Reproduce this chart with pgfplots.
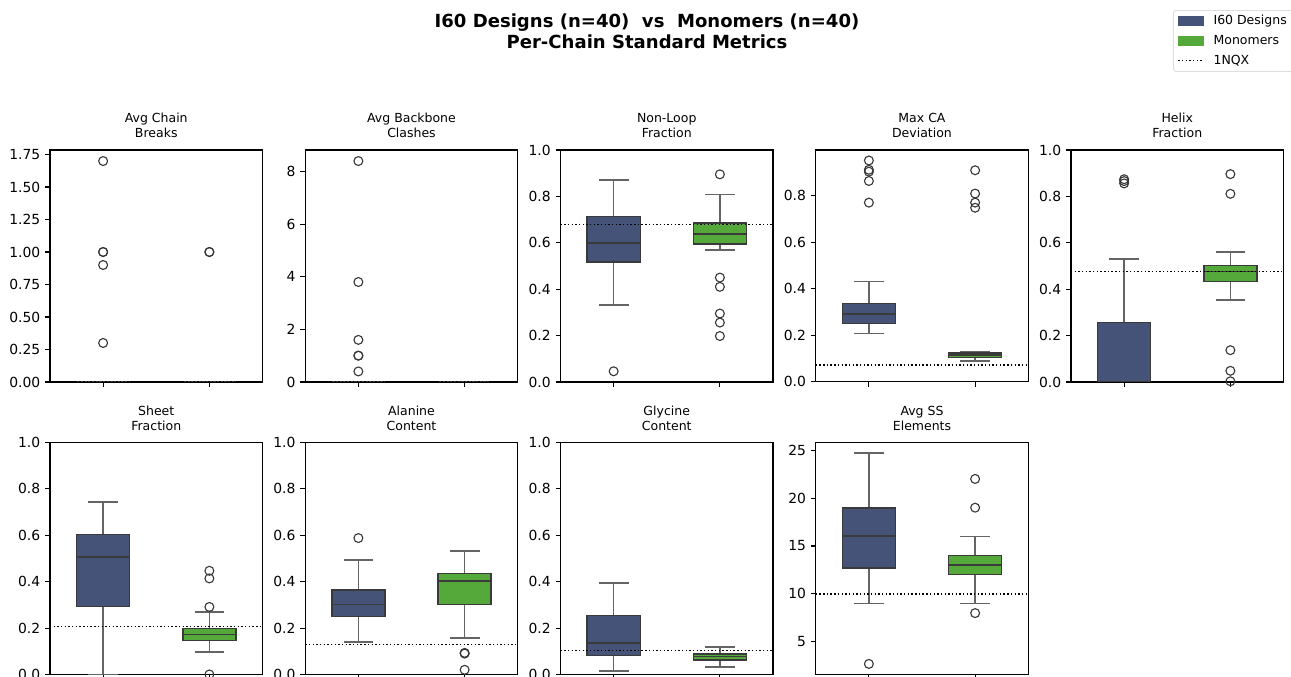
\documentclass[border=0pt]{standalone}
\usepackage{fontspec}
\setmainfont{DejaVu Sans}
\usepackage{pgfplots}
\pgfplotsset{compat=1.18}
\usepgfplotslibrary{statistics}

\definecolor{designs}{RGB}{70,83,120}
\definecolor{monomers}{RGB}{85,168,58}
\definecolor{boxedge}{RGB}{58,58,58}
\definecolor{whisk}{RGB}{100,100,100}
\definecolor{outl}{RGB}{55,55,55}

\pgfplotsset{
  panel/.style={
    scale only axis, width=153pt, height=167pt,
    anchor=north west,
    xmin=-0.5, xmax=1.5, xtick={0,1}, xticklabels={},
    tick align=outside, major tick length=3.5pt,
    xtick pos=left, ytick pos=left,
    axis line style={black, line width=0.8pt},
    every tick/.style={black, line width=0.8pt},
    tick label style={font=\fontsize{10}{12}\selectfont},
    /pgf/number format/assume math mode=true,
    title style={font=\fontsize{9}{10.8}\selectfont, align=center,
      at={(0.5,1)}, anchor=south, yshift=-0.5pt, inner sep=3pt},
  },
  frac/.style={ymin=0, ymax=1, ytick={0,0.2,...,1.0},
    yticklabel style={/pgf/number format/.cd, fixed, fixed zerofill, precision=1}},
  boxbase/.style={forget plot, draw=whisk, line width=1.15pt,
    mark=o, mark size=3.2pt, mark options={draw=outl, line width=0.8pt, solid},
    boxplot/draw direction=y,
    boxplot/box extend=0.5, boxplot/whisker extend=0.28,
    boxplot/every box/.style={draw=boxedge, line width=1pt},
    boxplot/every whisker/.style={draw=whisk, line width=1.15pt},
    boxplot/every median/.style={draw=boxedge, line width=1.1pt}},
  designsbox/.style={boxbase, boxplot/every box/.append style={fill=designs}},
  monobox/.style={boxbase, boxplot/every box/.append style={fill=monomers}},
  refline/.style={forget plot, black, line width=1pt, dash pattern=on 1pt off 1.65pt},
}

\begin{document}
\begin{tikzpicture}

% ---------- row 1 ----------
\begin{axis}[panel, at={({50*0.72pt},{-150*0.72pt})},
  title={Avg Chain\\Breaks}, ymin=0, ymax=1.785, ytick={0,0.25,0.5,0.75,1,1.25,1.5,1.75},
  yticklabel style={/pgf/number format/.cd, fixed, fixed zerofill, precision=2}]
\addplot[designsbox, boxplot prepared={draw position=0, lower whisker=0, lower quartile=0,
  median=0, upper quartile=0, upper whisker=0}]
  table[row sep=\\, y index=0]{v\\ 1.7\\ 1.0\\ 1.0\\ 0.9\\ 0.3\\};
\addplot[monobox, boxplot prepared={draw position=1, lower whisker=0, lower quartile=0,
  median=0, upper quartile=0, upper whisker=0}]
  table[row sep=\\, y index=0]{v\\ 1.0\\ 1.0\\};
\addplot[refline] coordinates {(-0.5,0) (1.5,0)};
\end{axis}

\begin{axis}[panel, at={({305.25*0.72pt},{-150*0.72pt})},
  title={Avg Backbone\\Clashes}, ymin=0, ymax=8.82, ytick={0,2,4,6,8}]
\addplot[designsbox, boxplot prepared={draw position=0, lower whisker=0, lower quartile=0,
  median=0, upper quartile=0, upper whisker=0}]
  table[row sep=\\, y index=0]{v\\ 8.4\\ 3.8\\ 1.6\\ 1.0\\ 1.0\\ 0.4\\};
\addplot[monobox, boxplot prepared={draw position=1, lower whisker=0, lower quartile=0,
  median=0, upper quartile=0, upper whisker=0}] coordinates {};
\addplot[refline] coordinates {(-0.5,0) (1.5,0)};
\end{axis}

\begin{axis}[panel, frac, at={({560.5*0.72pt},{-150*0.72pt})},
  title={Non-Loop\\Fraction}]
\addplot[designsbox, boxplot prepared={draw position=0, lower whisker=0.331, lower quartile=0.517,
  median=0.598, upper quartile=0.713, upper whisker=0.870}]
  table[row sep=\\, y index=0]{v\\ 0.046\\};
\addplot[monobox, boxplot prepared={draw position=1, lower whisker=0.570, lower quartile=0.594,
  median=0.638, upper quartile=0.685, upper whisker=0.809}]
  table[row sep=\\, y index=0]{v\\ 0.895\\ 0.450\\ 0.410\\ 0.295\\ 0.256\\ 0.198\\};
\addplot[refline] coordinates {(-0.5,0.678) (1.5,0.678)};
\end{axis}

\begin{axis}[panel, at={({815.75*0.72pt},{-150*0.72pt})},
  title={Max CA\\Deviation}, ymin=0, ymax=0.996, ytick={0,0.2,0.4,0.6,0.8},
  yticklabel style={/pgf/number format/.cd, fixed, fixed zerofill, precision=1}]
\addplot[designsbox, boxplot prepared={draw position=0, lower whisker=0.208, lower quartile=0.252,
  median=0.292, upper quartile=0.336, upper whisker=0.431}]
  table[row sep=\\, y index=0]{v\\ 0.770\\ 0.863\\ 0.903\\ 0.911\\ 0.951\\};
\addplot[monobox, boxplot prepared={draw position=1, lower whisker=0.090, lower quartile=0.106,
  median=0.116, upper quartile=0.125, upper whisker=0.130}]
  table[row sep=\\, y index=0]{v\\ 0.909\\ 0.809\\ 0.770\\ 0.748\\};
\addplot[refline] coordinates {(-0.5,0.073) (1.5,0.073)};
\end{axis}

\begin{axis}[panel, frac, at={({1071*0.72pt},{-150*0.72pt})},
  title={Helix\\Fraction},
  legend cell align=left,
  legend style={at={(axis description cs:0.48,1.6034)}, anchor=north west,
    draw=black!20, rounded corners=2pt, fill=white,
    font=\fontsize{9}{10.8}\selectfont, row sep=2.6pt,
    nodes={inner sep=1.5pt, text height=6.8pt, text depth=1.8pt},
    /tikz/every odd column/.append style={column sep=5.5pt}}]
\addplot[designsbox, boxplot prepared={draw position=0, lower whisker=0, lower quartile=0,
  median=0, upper quartile=0.256, upper whisker=0.530}]
  table[row sep=\\, y index=0]{v\\ 0.874\\ 0.866\\ 0.856\\};
\addplot[monobox, boxplot prepared={draw position=1, lower whisker=0.353, lower quartile=0.434,
  median=0.476, upper quartile=0.501, upper whisker=0.561}]
  table[row sep=\\, y index=0]{v\\ 0.896\\ 0.811\\ 0.137\\ 0.048\\ 0.003\\};
\addplot[refline] coordinates {(-0.5,0.475) (1.5,0.475)};
\addlegendimage{legend image code/.code={\fill[designs, sharp corners] (0pt,-3.3pt) rectangle (18pt,3.3pt);}}
\addlegendentry{I60 Designs}
\addlegendimage{legend image code/.code={\fill[monomers, sharp corners] (0pt,-3.3pt) rectangle (18pt,3.3pt);}}
\addlegendentry{Monomers}
\addlegendimage{legend image code/.code={\draw[black, sharp corners, line width=1pt, dash pattern=on 1pt off 1.65pt] (0pt,0pt) -- (18pt,0pt);}}
\addlegendentry{1NQX}
\end{axis}

% ---------- row 2 ----------
\begin{axis}[panel, frac, at={({50*0.72pt},{-442.5*0.72pt})},
  title={Sheet\\Fraction}]
\addplot[designsbox, boxplot prepared={draw position=0, lower whisker=0, lower quartile=0.292,
  median=0.506, upper quartile=0.604, upper whisker=0.744}] coordinates {};
\addplot[monobox, boxplot prepared={draw position=1, lower whisker=0.098, lower quartile=0.147,
  median=0.173, upper quartile=0.199, upper whisker=0.270}]
  table[row sep=\\, y index=0]{v\\ 0.291\\ 0.414\\ 0.447\\ 0.0\\};
\addplot[refline] coordinates {(-0.5,0.206) (1.5,0.206)};
\end{axis}

\begin{axis}[panel, frac, at={({305.25*0.72pt},{-442.5*0.72pt})},
  title={Alanine\\Content}]
\addplot[designsbox, boxplot prepared={draw position=0, lower whisker=0.141, lower quartile=0.251,
  median=0.301, upper quartile=0.364, upper whisker=0.493}]
  table[row sep=\\, y index=0]{v\\ 0.588\\};
\addplot[monobox, boxplot prepared={draw position=1, lower whisker=0.158, lower quartile=0.301,
  median=0.402, upper quartile=0.436, upper whisker=0.533}]
  table[row sep=\\, y index=0]{v\\ 0.093\\ 0.090\\ 0.020\\};
\addplot[refline] coordinates {(-0.5,0.129) (1.5,0.129)};
\end{axis}

\begin{axis}[panel, frac, at={({560.5*0.72pt},{-442.5*0.72pt})},
  title={Glycine\\Content}]
\addplot[designsbox, boxplot prepared={draw position=0, lower whisker=0.014, lower quartile=0.082,
  median=0.136, upper quartile=0.254, upper whisker=0.393}] coordinates {};
\addplot[monobox, boxplot prepared={draw position=1, lower whisker=0.033, lower quartile=0.063,
  median=0.077, upper quartile=0.089, upper whisker=0.118}] coordinates {};
\addplot[refline] coordinates {(-0.5,0.103) (1.5,0.103)};
\end{axis}

\begin{axis}[panel, at={({815.75*0.72pt},{-442.5*0.72pt})},
  title={Avg SS\\Elements}, ymin=1.6, ymax=25.8, ytick={5,10,15,20,25}]
\addplot[designsbox, boxplot prepared={draw position=0, lower whisker=9.0, lower quartile=12.7,
  median=16.06, upper quartile=18.95, upper whisker=24.7}]
  table[row sep=\\, y index=0]{v\\ 2.7\\};
\addplot[monobox, boxplot prepared={draw position=1, lower whisker=9.0, lower quartile=12.0,
  median=13.0, upper quartile=14.0, upper whisker=16.0}]
  table[row sep=\\, y index=0]{v\\ 22\\ 19\\ 8\\};
\addplot[refline] coordinates {(-0.5,10) (1.5,10)};
\end{axis}

% ---------- figure title ----------
\node[font=\fontsize{13}{15.6}\selectfont\bfseries, anchor=base]
  at ({647*0.72pt},{-27.5*0.72pt}) {I60 Designs (n=40)\ \ vs\ \ Monomers (n=40)};
\node[font=\fontsize{13}{15.6}\selectfont\bfseries, anchor=base]
  at ({647*0.72pt},{-48.5*0.72pt}) {Per-Chain Standard Metrics};

\pgfresetboundingbox
\useasboundingbox (0,0) rectangle ({1291*0.72pt},{-677*0.72pt});
\end{tikzpicture}
\end{document}
